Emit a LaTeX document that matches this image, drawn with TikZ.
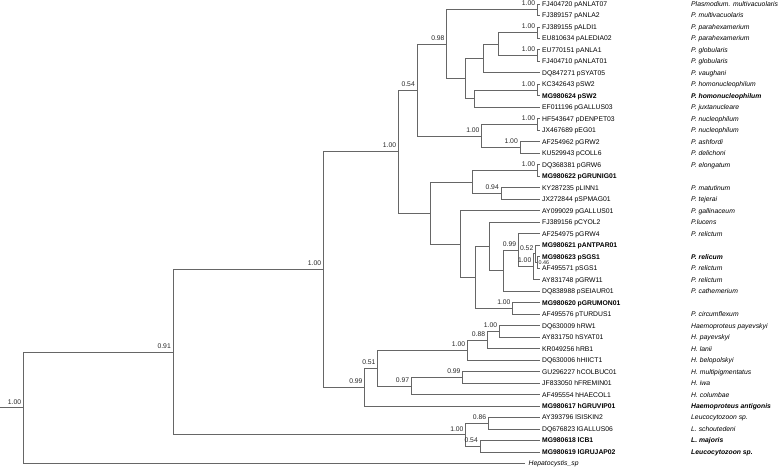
\documentclass[tikz,border=0pt]{standalone}
\usepackage{fontspec}
\setmainfont{Liberation Sans}
\usetikzlibrary{calc}
\definecolor{treegray}{HTML}{666666}
\begin{document}
\begin{tikzpicture}[x=1pt,y=-1pt,
  br/.style={draw=treegray, line width=0.75pt},
  supp/.style={font=\fontsize{6.8}{7}\selectfont, inner sep=0pt, anchor=south east, text=black!85},
  acc/.style={font=\fontsize{6.8}{7}\selectfont, inner sep=0pt, anchor=west, text height=4.9pt, text depth=0pt},
  spc/.style={acc, font=\fontsize{6.8}{7}\selectfont\itshape}]
\useasboundingbox (0,0) rectangle (784,469);

% leaves
\foreach \i/\a in {1/{FJ404720 pANLAT07},2/{FJ389157 pANLA2},3/{FJ389155 pALDI1},4/{EU810634 pALEDIA02},
  5/{EU770151 pANLA1},6/{FJ404710 pANLAT01},7/{DQ847271 pSYAT05},8/{KC342643 pSW2},
  9/{\bfseries MG980624 pSW2},10/{EF011196 pGALLUS03},11/{HF543647 pDENPET03},12/{JX467689 pEG01},
  13/{AF254962 pGRW2},14/{KU529943 pCOLL6},15/{DQ368381 pGRW6},16/{\bfseries MG980622 pGRUNIG01},
  17/{KY287235 pLINN1},18/{JX272844 pSPMAG01},19/{AY099029 pGALLUS01},20/{FJ389156 pCYOL2},
  21/{AF254975 pGRW4},22/{\bfseries MG980621 pANTPAR01},23/{\bfseries MG980623 pSGS1},24/{AF495571 pSGS1},
  25/{AY831748 pGRW11},26/{DQ838988 pSEIAUR01},27/{\bfseries MG980620 pGRUMON01},28/{AF495576 pTURDUS1},
  29/{DQ630009 hRW1},30/{AY831750 hSYAT01},31/{KR049256 hRB1},32/{DQ630006 hHIICT1},
  33/{GU296227 hCOLBUC01},34/{JF833050 hFREMIN01},35/{AF495554 hHAECOL1},36/{\bfseries MG980617 hGRUVIP01},
  37/{AY393796 lSISKIN2},38/{DQ676823 lGALLUS06},39/{\bfseries MG980618 lCB1},40/{\bfseries MG980619 lGRUJAP02}}{
  \coordinate (l\i) at (539.5,{3.9+(\i-1)*11.49});
  \node[acc] (a\i) at (542,{3.9+(\i-1)*11.49}) {\a};
}
\foreach \i/\s in {1/{Plasmodium. multivacuolaris},2/{P. multivacuolaris},3/{P. parahexamerium},4/{P. parahexamerium},
  5/{P. globularis},6/{P. globularis},7/{P. vaughani},8/{P. homonucleophilum},9/{\bfseries P. homonucleophilum},
  10/{P. juxtanucleare},11/{P. nucleophilum},12/{P. nucleophilum},13/{P. ashfordi},14/{P. delichoni},
  15/{P. elongatum},17/{P. matutinum},18/{P. tejerai},19/{P. gallinaceum},20/{P.lucens},21/{P. relictum},
  23/{\bfseries P. relicum},24/{P. relictum},25/{P. relictum},26/{P. cathemerium},28/{P. circumflexum},
  29/{Haemoproteus payevskyi},30/{H. payevskyi},31/{H. lanii},32/{H. belopolskyi},33/{H. multipigmentatus},
  34/{H. iwa},35/{H. columbae},36/{\bfseries Haemoproteus antigonis},37/{Leucocytozoon sp.},
  38/{L. schoutedeni},39/{\bfseries L. majoris},40/{\bfseries Leucocytozoon sp.}}{
  \node[spc] (s\i) at (691,{3.9+(\i-1)*11.49}) {\s};
}
\coordinate (l41) at (525,463.5);
\node[spc] (a41) at (528.5,463.5) {Hepatocystis\_sp};

% internal nodes
\coordinate (nA) at (537.3,9.645);
\coordinate (nB) at (537.3,32.625);
\coordinate (nC) at (537.3,55.605);
\coordinate (nD) at (498.3,44.115);
\coordinate (nE) at (483.3,58.48);
\coordinate (n89) at (537.3,90.075);
\coordinate (nG) at (474.3,98.69);
\coordinate (nF) at (465.7,78.59);
\coordinate (n098) at (446.7,44.12);
\coordinate (n1112) at (537.3,124.545);
\coordinate (n1314) at (520,147.525);
\coordinate (nH) at (481.7,136.035);
\coordinate (n054) at (417,90.08);
\coordinate (n1516) at (537.3,170.505);
\coordinate (n1718) at (501,193.485);
\coordinate (nJ) at (472.7,181.995);
\coordinate (q046) at (537.5,262.425);
\coordinate (q052) at (535.5,253.81);
\coordinate (nO) at (533.5,266.735);
\coordinate (n099) at (518.3,250.22);
\coordinate (nP) at (503.3,270.685);
\coordinate (nL) at (489.3,246.45);
\coordinate (n2728) at (512.7,308.385);
\coordinate (nM) at (475,277.42);
\coordinate (nK) at (460,244.07);
\coordinate (nI) at (430,213.03);
\coordinate (n100b) at (398.3,151.56);
\coordinate (n2930) at (499.3,331.365);
\coordinate (n088) at (487.3,339.98);
\coordinate (nHaem) at (467.3,350.04);
\coordinate (n3334) at (462.7,377.325);
\coordinate (n097) at (411.3,385.94);
\coordinate (n051) at (377.7,367.99);
\coordinate (n099b) at (364.7,387.02);
\coordinate (n100a) at (323.3,269.29);
\coordinate (n3738) at (488.3,423.285);
\coordinate (n3940) at (480,446.265);
\coordinate (nLeu) at (465.7,434.775);
\coordinate (n091) at (173,352.03);
\coordinate (nR) at (23.3,407.77);
\coordinate (r0) at (0,407.77);

% branches
\foreach \p/\c in {nA/l1,nA/l2,nB/l3,nB/l4,nC/l5,nC/l6,nD/nB,nD/nC,nE/nD,nE/l7,n89/l8,n89/l9,
  nG/n89,nG/l10,nF/nE,nF/nG,n098/nA,n098/nF,n1112/l11,n1112/l12,n1314/l13,n1314/l14,nH/n1112,nH/n1314,
  n054/n098,n054/nH,n1516/l15,n1516/l16,n1718/l17,n1718/l18,nJ/n1516,nJ/n1718,q046/l23,q046/l24,
  q052/l22,q052/q046,nO/q052,nO/l25,n099/l21,n099/nO,nP/n099,nP/l26,nL/l20,nL/nP,n2728/l27,n2728/l28,
  nM/nL,nM/n2728,nK/l19,nK/nM,nI/nJ,nI/nK,n100b/n054,n100b/nI,n2930/l29,n2930/l30,n088/n2930,n088/l31,
  nHaem/n088,nHaem/l32,n3334/l33,n3334/l34,n097/n3334,n097/l35,n051/nHaem,n051/n097,n099b/n051,n099b/l36,
  n100a/n100b,n100a/n099b,n3738/l37,n3738/l38,n3940/l39,n3940/l40,nLeu/n3738,nLeu/n3940,
  n091/n100a,n091/nLeu,nR/n091,nR/l41}{
  \draw[br] (\p) |- (\c);
}
\draw[br] (r0) -- (nR);

% support values
\foreach \n/\v in {nA/1.00,nB/1.00,nC/1.00,n89/1.00,n098/0.98,n1112/1.00,n1314/1.00,nH/1.00,n054/0.54,
  n1516/1.00,n1718/0.94,q052/0.52,nO/1.00,n099/0.99,n2728/1.00,n100b/1.00,n2930/1.00,n088/0.88,
  nHaem/1.00,n3334/0.99,n097/0.97,n051/0.51,n099b/0.99,n100a/1.00,n3738/0.86,n3940/0.54,nLeu/1.00,
  n091/0.91,nR/1.00}{
  \node[supp] (t\n) at ($(\n)+(-2,-3.5)$) {\v};
}
\node[supp, font=\fontsize{5.4}{6}\selectfont, anchor=west, text height=3.8pt, text depth=0pt] (tq046) at (538.5,262.45) {0.46};
\end{tikzpicture}
\end{document}
